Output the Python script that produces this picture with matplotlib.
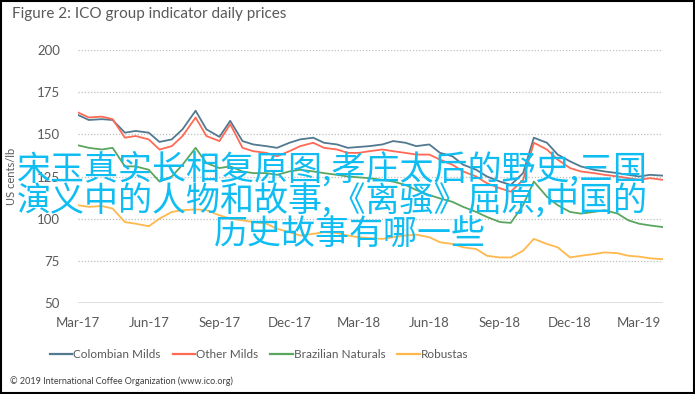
import matplotlib
matplotlib.use('Agg')
import matplotlib.pyplot as plt
import matplotlib.dates as mdates
from matplotlib.lines import Line2D
import pandas as pd

plt.rcParams['font.family'] = ['Lato', 'DejaVu Sans']

# semi-monthly readings, Mar-17 .. Apr-19
dates = pd.date_range('2017-03-01', '2019-04-01', freq='SMS')

colombian = [161.5, 158.5, 159, 158.5, 151, 152, 151, 145.5, 147, 153,
             164, 153, 148.5, 158, 146, 144, 143, 142, 145, 147,
             148, 145, 144, 142, 142.5, 143, 144, 146, 145, 143,
             144, 139, 137, 132, 129, 125, 122, 120, 127, 148,
             145, 138, 134, 131, 129, 128, 127, 126, 125, 126, 125.5]
other = [163, 160, 160.5, 159, 148, 149, 147, 141, 143, 149,
         160, 149, 146, 156, 142, 140, 139, 137, 140, 143,
         145, 142, 141, 139, 139, 140, 141, 140, 139, 138,
         138, 135, 132, 128, 125, 121, 118, 116, 123, 145,
         141, 135, 130, 128, 127, 126, 125, 124, 123, 124, 123]
brazil = [143.5, 142, 141, 142, 131, 131, 129, 122, 125, 132,
          142, 133, 130, 131, 128, 127, 127, 126, 128, 129,
          128, 127, 126, 125, 124.5, 124, 123, 122, 120, 117,
          114, 112, 110, 107, 104, 101, 98, 97.5, 108, 122,
          113, 108, 104, 103, 104, 105, 103, 99, 97, 96, 95]
robusta = [108, 107, 107.5, 106, 98, 97, 95.5, 100, 104, 105,
           105.5, 105, 102, 100, 99, 98, 97, 94, 92, 90,
           91, 92, 91.5, 90, 89, 88.5, 88, 89, 90, 90.5,
           89, 86, 85, 83, 82, 78, 77, 77, 81, 88,
           85, 83, 77, 78, 79, 80, 79.5, 78, 77.5, 76.5, 76]

names = ['Colombian Milds', 'Other Milds', 'Brazilian Naturals', 'Robustas']
colors = ['#52798F', '#FF6A55', '#5AA65E', '#FFB84D']
yticks = [50, 75, 100, 125, 150, 175, 200]

grey = '#595959'
fig = plt.figure(figsize=(6.95, 3.94), dpi=100)
ax = fig.add_axes([78/695, 1 - 303/394, 585/695, 253/394])

for vals, c, n in zip([colombian, other, brazil, robusta], colors, names):
    ax.plot(dates, vals, color=c, lw=1.3, label=n)

ax.set_ylim(50, 200)
ax.set_xlim(dates[0], dates[-1])
ax.set_yticks(yticks)
for y in yticks[1:]:
    ax.axhline(y, color='#BFBFBF', lw=0.9, ls=(0, (1, 1.5)), zorder=0)
ax.axhline(50, color='#D9D9D9', lw=1.2, zorder=0)

ax.xaxis.set_major_locator(mdates.MonthLocator(bymonth=[3, 6, 9, 12]))
ax.xaxis.set_major_formatter(mdates.DateFormatter('%b-%y'))
for s in ax.spines.values():
    s.set_visible(False)
ax.tick_params(length=0, labelsize=9.5, colors=grey)
ax.tick_params(axis='y', pad=13)
ax.tick_params(axis='x', pad=10)
ax.set_ylabel('US cents/lb', fontsize=8, color=grey, labelpad=14)
ax.patch.set_alpha(0)

fig.text(12/695, 1 - 14/394, 'Figure 2: ICO group indicator daily prices',
         fontsize=11, color=grey, va='center', ha='left')

handles = [Line2D([], [], color=c, lw=1.6) for c in colors]
fig.legend(handles, names, loc='center', bbox_to_anchor=(259/695, 1 - 355/394),
           ncol=4, frameon=False, fontsize=8.5, handlelength=1.9,
           handletextpad=0.1, columnspacing=1.0, labelcolor=grey)

fig.text(10/695, 1 - 381/394, '© 2019 International Coffee Organization (www.ico.org)',
         fontsize=6.5, color='#404040', va='center', ha='left')

# watermark text over the chart
wm = ['宋玉真实长相复原图,孝庄太后的野史,三国',
      '演义中的人物和故事,《离骚》屈原,中国的',
      '历史故事有哪一些']
wm_pos = [(332, 170), (332, 202), (350, 234)]
for t, (x, y) in zip(wm, wm_pos):
    fig.text(x/695, 1 - y/394, t, fontsize=24.5, color='#10BDF3',
             ha='center', va='center', family=['Noto Sans CJK SC', 'DejaVu Sans'])

# outer frame
fig.patches.append(plt.Rectangle((0.001, 0.002), 0.997, 0.996, transform=fig.transFigure,
                                 fill=False, ec='black', lw=1.5))

fig.savefig('out.png', dpi=100)
